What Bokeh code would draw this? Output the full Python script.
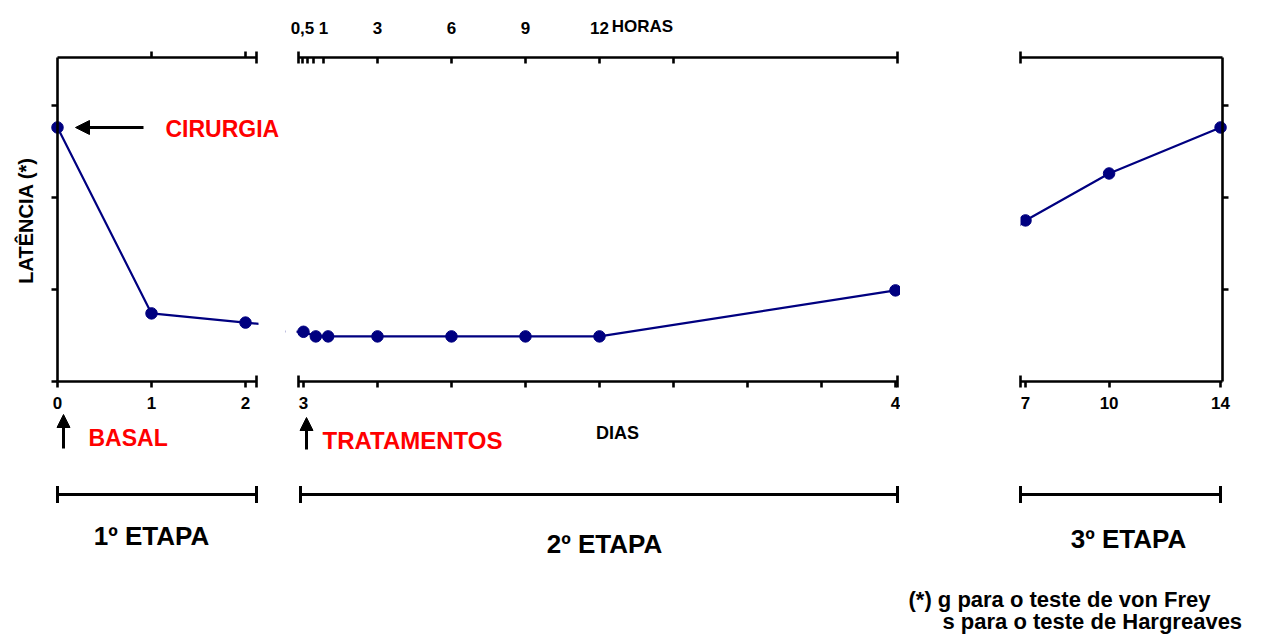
import math
from bokeh.plotting import figure
from bokeh.models import (Range1d, LinearAxis, FixedTicker, Label, Arrow, TeeHead,
                          NormalHead, BoxAnnotation, ColumnDataSource)
from bokeh.layouts import row
from bokeh.embed import file_html
from bokeh.resources import INLINE

# ---------------- data ----------------
days = [0, 1, 2, 3.0, 3 + 0.5 / 24, 3 + 1 / 24, 3 + 3 / 24, 3 + 6 / 24, 3 + 9 / 24, 3 + 12 / 24, 4, 7, 10, 14]
latency = [2.76, 0.74, 0.64, 0.54, 0.49, 0.49, 0.49, 0.49, 0.49, 0.49, 0.99, 1.75, 2.26, 2.76]

y_ticks = [0, 1, 2, 3]
p1_ticks = [0, 1, 2]
p1_labels = {0: "0", 1: "1", 2: "2"}
p2_day_ticks = [3, 3.125, 3.25, 3.375, 3.5, 3.625, 3.75, 3.875, 4]
p2_day_labels = {3: "3", 4: "4"}
hour_ticks = [-0.04, 0.16, 0.4, 0.81, 3, 6, 9, 12, 15]
hour_labels = {-0.04: "0,5", 0.81: "1", 3: "3", 6: "6", 9: "9", 12: "12"}
p3_ticks = [7, 10, 14]
p3_labels = {7: "7", 10: "10", 14: "14"}

# ---------------- layout constants ----------------
H = 635
TOP, BOTTOM_PX = 57, 381
YMAX = 3.52
PPU_Y = (BOTTOM_PX - TOP) / YMAX
FONT = "Liberation Sans"
NAVY = "#000080"
RED = "#FF0000"

# pixel extents of each panel's axes (left/right) and their data values
P1 = dict(off=0, width=285, left=57, right=256, start=0.0, end=2.117)
P2 = dict(off=285, width=615, left=298, right=897, start=2.9916, end=4.0034)
P3 = dict(off=900, width=380, left=1020, right=1222, start=6.82, end=14.07)


def fx(P, px):
    return P["start"] + (px - P["left"]) * (P["end"] - P["start"]) / (P["right"] - P["left"])


def fy(py):
    return (BOTTOM_PX - py) / PPU_Y


def make_fig(P):
    p = figure(width=P["width"], height=H,
               x_range=Range1d(fx(P, P["off"]), fx(P, P["off"] + P["width"])),
               y_range=Range1d(fy(H), fy(0)),
               output_backend="svg", toolbar_location=None,
               x_axis_location=None, y_axis_location=None, min_border=0)
    p.grid.visible = False
    p.outline_line_color = None
    # the points of this panel plus its direct neighbours (for the broken connecting line)
    idx = [i for i, d in enumerate(days) if P["start"] - 3 <= d <= P["end"] + 3.5]
    src = ColumnDataSource(dict(x=[days[i] for i in idx], y=[latency[i] for i in idx]))
    p.line("x", "y", source=src, line_color=NAVY, line_width=2.2)
    p.scatter("x", "y", source=src, size=11.5, fill_color=NAVY, line_color=NAVY)
    return p


def mask(p, **kw):
    p.add_layout(BoxAnnotation(fill_color="white", fill_alpha=1, line_alpha=0, level="glyph", **kw))


def axis(p, side, loc, bounds, ticks, labels, t_in, t_out, standoff=9, size="17px", **kw):
    ax = LinearAxis(fixed_location=loc, bounds=bounds, **kw)
    ax.ticker = FixedTicker(ticks=ticks)
    ov = {t: "" for t in ticks}
    ov.update(labels)
    ax.major_label_overrides = ov
    ax.minor_tick_line_color = None
    ax.major_tick_in = t_in
    ax.major_tick_out = t_out
    ax.axis_line_width = 2.6
    ax.major_tick_line_width = 2.6
    ax.axis_line_color = "black"
    ax.major_tick_line_color = "black"
    ax.major_label_text_font = FONT
    ax.major_label_text_font_style = "bold"
    ax.major_label_text_font_size = size
    ax.major_label_text_color = "black"
    ax.major_label_standoff = standoff
    p.add_layout(ax, side)
    return ax


def cap(p, x0, x1, y, start=False, end=True, size=12, lw=2.6):
    p.add_layout(Arrow(x_start=x0, y_start=y, x_end=x1, y_end=y, line_alpha=0,
                       start=TeeHead(size=size, line_width=lw) if start else None,
                       end=TeeHead(size=size, line_width=lw) if end else None))


def bar(p, x0, x1, y):
    p.add_layout(Arrow(x_start=x0, y_start=y, x_end=x1, y_end=y, line_width=3.2,
                       start=TeeHead(size=17, line_width=3), end=TeeHead(size=17, line_width=3)))


def up_arrow(p, x, y0, y1):
    p.add_layout(Arrow(x_start=x, y_start=y0, x_end=x, y_end=y1, line_width=3,
                       end=NormalHead(size=13, fill_color="black", line_color="black")))


def text(p, x, y, t, size, color="black", align="left", **kw):
    p.add_layout(Label(x=x, y=y, text=t, text_font=FONT, text_font_style="bold",
                       text_font_size=size, text_color=color, text_align=align,
                       text_baseline="middle", **kw))


# ---------------- panel 1 ----------------
p1 = make_fig(P1)
mask(p1, left=fx(P1, 258), right=fx(P1, 320))
axis(p1, "left", P1["start"], (0, YMAX), y_ticks, {}, 0, 6)
axis(p1, "below", 0, (P1["start"], P1["end"]), p1_ticks, p1_labels, 0, 6)
axis(p1, "above", YMAX, (P1["start"], P1["end"]), [1, 2], {}, 0, 6)
cap(p1, P1["start"], P1["end"], 0)
cap(p1, P1["start"], P1["end"], YMAX)
text(p1, fx(P1, 25), fy(220), "LATÊNCIA (*)", "20px", align="center", angle=math.pi / 2)

p1.add_layout(Arrow(x_start=fx(P1, 143), y_start=fy(127), x_end=fx(P1, 75), y_end=fy(127),
                    line_width=3, end=NormalHead(size=14, fill_color="black", line_color="black")))
text(p1, fx(P1, 165), fy(128), "CIRURGIA", "23px", RED)
up_arrow(p1, fx(P1, 63), fy(448), fy(414))
text(p1, fx(P1, 88), fy(437), "BASAL", "23px", RED)
bar(p1, P1["start"], P1["end"], fy(494))
text(p1, fx(P1, 151), fy(535), "1º ETAPA", "26px", align="center")

# ---------------- panel 2 ----------------
p2 = make_fig(P2)
hr0, hr1 = (fx(P2, P2["off"]) - 3) * 24, (fx(P2, P2["off"] + P2["width"]) - 3) * 24
p2.extra_x_ranges = {"hours": Range1d(hr0, hr1)}
mask(p2, left=fx(P2, 250), right=fx(P2, 296))
axis(p2, "below", 0, (P2["start"], P2["end"]), p2_day_ticks, p2_day_labels, 0, 6)
axis(p2, "above", YMAX, ((P2["start"] - 3) * 24, (P2["end"] - 3) * 24), hour_ticks, hour_labels,
     6, 0, standoff=24, x_range_name="hours")
cap(p2, P2["start"], P2["end"], 0, start=True)
cap(p2, P2["start"], P2["end"], YMAX, start=True)
text(p2, 12.5, fy(26), "HORAS", "17px", x_range_name="hours")

up_arrow(p2, fx(P2, 306), fy(449), fy(417))
text(p2, fx(P2, 322), fy(440), "TRATAMENTOS", "24px", RED)
text(p2, fx(P2, 617), fy(432), "DIAS", "18px", align="center")
bar(p2, fx(P2, 300), P2["end"], fy(494))
text(p2, fx(P2, 604), fy(543), "2º ETAPA", "26px", align="center")

# ---------------- panel 3 ----------------
p3 = make_fig(P3)
mask(p3, left=fx(P3, 850), right=fx(P3, 1020))
axis(p3, "below", 0, (P3["start"], P3["end"]), p3_ticks, p3_labels, 0, 6)
axis(p3, "right", P3["end"], (0, YMAX), y_ticks[1:], {}, 0, 6)
axis(p3, "above", YMAX, (P3["start"], P3["end"]), [], {}, 0, 0)
cap(p3, P3["end"], P3["start"], 0)
cap(p3, P3["end"], P3["start"], YMAX)
bar(p3, P3["start"], fx(P3, 1220), fy(494))
text(p3, fx(P3, 1128), fy(538), "3º ETAPA", "26px", align="center")
text(p3, fx(P3, 908), fy(599), "(*) g para o teste de von Frey", "22px")
text(p3, fx(P3, 942), fy(621), "s para o teste de Hargreaves", "22px")

layout = row(p1, p2, p3)
open("out.html", "w").write(file_html(layout, INLINE))
